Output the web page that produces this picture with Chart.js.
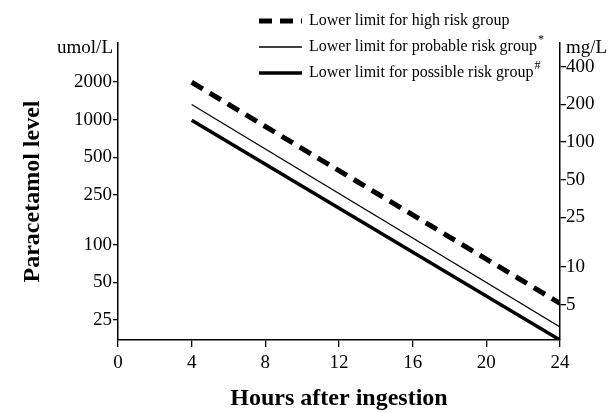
<!DOCTYPE html>
<html>
<head>
<meta charset="utf-8">
<script src="https://cdn.jsdelivr.net/npm/chart.js@4.4.1/dist/chart.umd.min.js"></script>
<style>
  body { margin: 0; background: #fff; }
  canvas { display: block; }
</style>
</head>
<body>
<canvas id="grafico" width="615" height="413"></canvas>
<script>
// hours after ingestion (line start / end)
const hours = [4, 24];
// paracetamol level in umol/L
const highRisk = [1990, 34];
const probableRisk = [1320, 22];
const possibleRisk = [990, 17.3];

const umolTicks = [25, 50, 100, 250, 500, 1000, 2000];
const mgTicks = [5, 10, 25, 50, 100, 200, 400];
const hourTicks = [0, 4, 8, 12, 16, 20, 24];

const umolMin = 17.3;
const umolMax = 4100;
const umolToMg = 151.16 / 1000; // molar mass of paracetamol

const labels = [
  'Lower limit for high risk group',
  'Lower limit for probable risk group',
  'Lower limit for possible risk group'
];
const marks = ['', '*', '#'];

const serif = 'Liberation Serif';

function puntos(valores) {
  return hours.map(function (h, i) { return { x: h, y: valores[i] }; });
}

// draws legend and units in the top margin
const extras = {
  id: 'extras',
  afterDraw: function (chart) {
    const ctx = chart.ctx;
    ctx.save();
    ctx.fillStyle = '#000';
    ctx.textBaseline = 'middle';
    ctx.font = '19px "' + serif + '"';
    ctx.textAlign = 'right';
    ctx.fillText('umol/L', 113, 48);
    ctx.textAlign = 'left';
    ctx.fillText('mg/L', 566, 48);

    const filas = [21, 47, 73];
    chart.data.datasets.forEach(function (ds, i) {
      const y = filas[i];
      ctx.strokeStyle = '#000';
      ctx.lineWidth = ds.borderWidth;
      ctx.setLineDash(ds.borderDash || []);
      ctx.beginPath();
      ctx.moveTo(259, y);
      ctx.lineTo(302, y);
      ctx.stroke();
      ctx.setLineDash([]);
      ctx.font = '16px "' + serif + '"';
      ctx.textAlign = 'left';
      ctx.fillText(ds.label, 309, y);
      if (marks[i]) {
        const w = ctx.measureText(ds.label).width;
        ctx.font = '12px "' + serif + '"';
        ctx.fillText(marks[i], 309 + w + 1, y - 7);
      }
    });
    ctx.restore();
  }
};

const ctx = document.getElementById('grafico');
new Chart(ctx, {
  type: 'line',
  data: {
    datasets: [{
      label: labels[0],
      data: puntos(highRisk),
      borderColor: '#000',
      borderWidth: 5,
      borderDash: [13, 8],
      pointRadius: 0,
      yAxisID: 'y'
    }, {
      label: labels[1],
      data: puntos(probableRisk),
      borderColor: '#000',
      borderWidth: 1.3,
      pointRadius: 0,
      yAxisID: 'y'
    }, {
      label: labels[2],
      data: puntos(possibleRisk),
      borderColor: '#000',
      borderWidth: 3.5,
      pointRadius: 0,
      yAxisID: 'y'
    }]
  },
  options: {
    responsive: false,
    animation: false,
    layout: { padding: { top: 43, left: 0, right: 0, bottom: 0 } },
    plugins: {
      legend: { display: false },
      tooltip: { enabled: false }
    },
    scales: {
      x: {
        type: 'linear',
        min: 0,
        max: 24,
        afterBuildTicks: function (scale) {
          scale.ticks = hourTicks.map(function (v) { return { value: v }; });
        },
        afterFit: function (scale) { scale.height = 73; },
        grid: { drawOnChartArea: false, tickLength: 7, color: '#000', lineWidth: 1.3 },
        border: { color: '#000', width: 1.5 },
        ticks: {
          color: '#000',
          padding: 5,
          maxRotation: 0,
          font: { family: serif, size: 19 }
        },
        title: {
          display: true,
          text: 'Hours after ingestion',
          color: '#000',
          padding: { top: 0, bottom: 0 },
          font: { family: serif, size: 24, weight: 'bold' }
        }
      },
      y: {
        type: 'logarithmic',
        position: 'left',
        min: umolMin,
        max: umolMax,
        afterBuildTicks: function (scale) {
          scale.ticks = umolTicks.map(function (v) { return { value: v }; });
        },
        afterFit: function (scale) { scale.width = 118; },
        grid: { drawOnChartArea: false, tickLength: 5, color: '#000', lineWidth: 1.3 },
        border: { color: '#000', width: 1.5 },
        ticks: {
          color: '#000',
          padding: 1,
          font: { family: serif, size: 19 },
          callback: function (v) { return String(v); }
        },
        title: {
          display: true,
          text: 'Paracetamol level',
          color: '#000',
          padding: { top: 18, bottom: 0 },
          font: { family: serif, size: 24, weight: 'bold' }
        }
      },
      y2: {
        type: 'logarithmic',
        position: 'right',
        min: umolMin * umolToMg,
        max: umolMax * umolToMg,
        afterBuildTicks: function (scale) {
          scale.ticks = mgTicks.map(function (v) { return { value: v }; });
        },
        afterFit: function (scale) { scale.width = 55; },
        grid: { drawOnChartArea: false, tickLength: 6, color: '#000', lineWidth: 1.3 },
        border: { color: '#000', width: 1.5 },
        ticks: {
          color: '#000',
          padding: 0,
          font: { family: serif, size: 19 },
          callback: function (v) { return String(v); }
        }
      }
    }
  },
  plugins: [extras]
});
</script>
</body>
</html>
